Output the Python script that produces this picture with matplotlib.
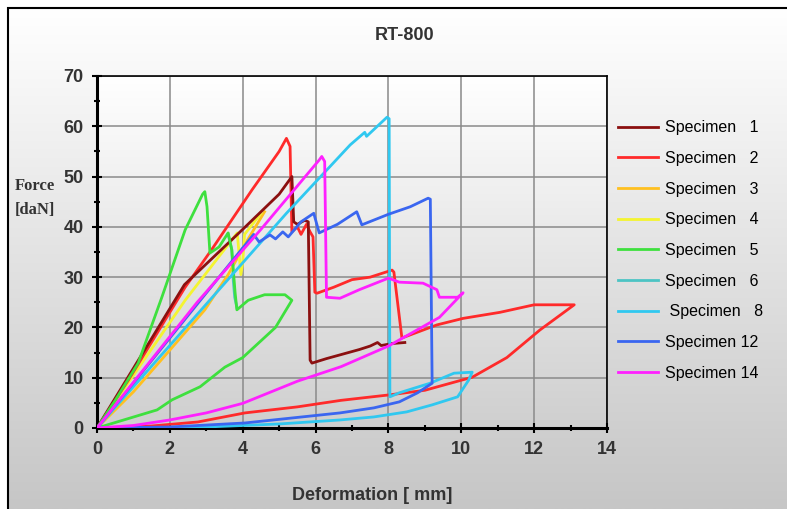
import numpy as np
import matplotlib
matplotlib.use("Agg")
import matplotlib.pyplot as plt
from matplotlib.patches import Rectangle

plt.rcParams['font.family'] = ['Liberation Sans', 'DejaVu Sans']

# ---- data (deformation mm, force daN) ----
labels = ["Specimen   1", "Specimen   2", "Specimen   3", "Specimen   4",
          "Specimen   5", "Specimen   6", " Specimen   8", "Specimen 12",
          "Specimen 14"]
colors = ["#8b1010", "#ff2a2a", "#ffc020", "#f4f430", "#3ee03e",
          "#4cc4c4", "#30c8f0", "#3a66f0", "#ff20ff"]

s1_x = [0, 2.4, 4.0, 5.0, 5.35, 5.4, 5.5, 5.7, 5.8, 5.85, 5.9, 6.3, 6.8, 7.2, 7.5, 7.7, 7.8, 8.1, 8.45]
s1_y = [0, 28.5, 39.5, 46.5, 50, 41, 40.5, 41.3, 41, 13.5, 12.9, 13.8, 14.8, 15.6, 16.3, 17, 16.4, 16.8, 17]

s2_x = [0, 0.86, 2.42, 3.15, 4.25, 5.0, 5.2, 5.3, 5.35, 5.5, 5.6, 5.75, 5.85, 5.93, 5.98, 6.04,
        6.5, 7.0, 7.5, 8.1, 8.15, 8.37, 9.33, 10.05, 11.06, 12.0, 13.1,
        12.16, 11.25, 10.3, 9.0, 8.04, 6.7, 5.5, 4.06, 2.77, 1.5, 0]
s2_y = [0, 9.5, 28, 35.5, 47.3, 55, 57.6, 56, 39, 40, 38.5, 40.5, 39, 38, 27, 26.8,
        28, 29.5, 30, 31.4, 31, 17.9, 20.5, 21.8, 23, 24.5, 24.5,
        19.5, 14, 10.1, 7.5, 6.6, 5.5, 4.2, 3, 1.2, 0.4, 0]

s3_x = [0, 1.0, 2.0, 2.96, 3.6, 4.1, 4.6]
s3_y = [0, 7.2, 15.5, 23.5, 30.5, 37, 43]

s4_x = [0, 2.42, 3.85, 3.95, 4.0, 4.05, 4.5]
s4_y = [0, 25.4, 38.8, 30.5, 33, 38.5, 42.7]

s5_x = [0, 0.5, 1.13, 1.78, 2.42, 2.9, 2.96, 3.02, 3.1, 3.35, 3.6, 3.7, 3.79, 3.84, 4.15,
        4.6, 5.16, 5.35, 4.9, 4.0, 3.51, 2.83, 2.06, 1.65, 0]
s5_y = [0, 5.5, 12.9, 26, 39.4, 46.5, 47, 44, 34.8, 36, 38.8, 35.4, 27, 23.5, 25.4,
        26.5, 26.5, 25.4, 20, 14, 12.1, 8.2, 5.6, 3.6, 0]

s6_x = [3.6, 3.7, 3.74, 3.78, 3.84]
s6_y = [38.5, 35.5, 29.4, 26, 24]

s8_x = [0, 5.2, 6.95, 7.35, 7.4, 7.96, 8.02, 8.04, 8.3, 9.14, 9.8, 10.3,
        10.2, 9.9, 9.2, 8.5, 7.6, 6.67, 5.0, 3.0, 0]
s8_y = [0, 42.7, 56.3, 58.8, 58, 61.8, 61.5, 6.2, 7.0, 8.9, 10.9, 11.1,
        9.5, 6.2, 4.6, 3.2, 2.2, 1.6, 0.8, 0.2, 0]

s12_x = [0, 4.3, 4.45, 4.75, 4.9, 5.1, 5.25, 5.6, 5.95, 6.1, 6.6, 7.13, 7.27,
         8.0, 8.6, 9.09, 9.15, 9.2, 8.8, 8.3, 7.6, 6.67, 4.06, 2.0, 0]
s12_y = [0, 38.5, 37, 38.4, 37.6, 39, 38, 41, 42.7, 38.8, 40.5, 43, 40.4,
         42.5, 44, 45.7, 45.5, 8.9, 7, 5.2, 4, 3, 1, 0.2, 0]

s14_x = [0, 2.75, 4.5, 6.1, 6.17, 6.25, 6.3, 6.67, 7.2, 8.0, 8.3, 8.95, 9.33,
         9.4, 9.9, 10.05, 9.4, 8.0, 6.7, 5.5, 4.0, 3.0, 2.0, 1.0, 0]
s14_y = [0, 25, 39.5, 53.3, 54, 53, 26, 25.8, 27.5, 29.8, 29, 28.8, 27.5,
         26, 26, 26.9, 22, 16.3, 12.2, 9.3, 4.9, 3.0, 1.6, 0.5, 0]

series_x = [s1_x, s2_x, s3_x, s4_x, s5_x, s6_x, s8_x, s12_x, s14_x]
series_y = [s1_y, s2_y, s3_y, s4_y, s5_y, s6_y, s8_y, s12_y, s14_y]
draw_order = [5, 2, 3, 1, 0, 4, 6, 7, 8]

W, H = 787, 509
fig = plt.figure(figsize=(W / 100, H / 100), dpi=100, facecolor="white")

# grey gradient panel with a black frame, like the pasted Excel chart
grad = np.linspace(1.0, 0.0, 256).reshape(-1, 1)
bg = fig.add_axes([8 / W, 0, 1 - 8 / W, 1 - 8 / H], zorder=-10)
bg.imshow(grad, cmap=matplotlib.colors.LinearSegmentedColormap.from_list(
    "g", ["#c6c6c6", "#ffffff"]), aspect="auto", extent=[0, 1, 0, 1])
bg.axis("off")
fig.add_artist(Rectangle((8 / W, -0.1), 1.2, 1.1 - 8 / H, transform=fig.transFigure,
                         fill=False, edgecolor="black", linewidth=1.5))

ax = fig.add_axes([97 / W, 1 - 428 / H, (607 - 97) / W, (428 - 76) / H])
ax.set_xlim(0, 14)
ax.set_ylim(0, 70)
ax.imshow(grad, cmap=matplotlib.colors.LinearSegmentedColormap.from_list(
    "a", ["#cfcfcf", "#ffffff"]), aspect="auto", extent=[0, 14, 0, 70], zorder=0)

for i in draw_order:
    ax.plot(series_x[i], series_y[i], color=colors[i], lw=2.0, label=labels[i],
            zorder=3, solid_joinstyle="round")

ax.set_xticks(range(0, 15, 2))
ax.set_xticks(range(0, 15), minor=True)
ax.set_yticks(range(0, 71, 10))
ax.set_yticks(range(0, 71, 5), minor=True)
ax.grid(True, which="major", color="#8a8a8a", lw=1.1, zorder=1)
ax.tick_params(which="both", direction="inout", color="black", width=1.5)
ax.tick_params(which="major", length=7, labelsize=13, pad=6, labelcolor="#333333")
ax.tick_params(which="minor", length=5)
for lbl in ax.get_xticklabels() + ax.get_yticklabels():
    lbl.set_fontweight("bold")
for side in ["left", "bottom"]:
    ax.spines[side].set_linewidth(2.2)
for side in ["top", "right"]:
    ax.spines[side].set_linewidth(1.2)

fig.text(405 / W, 1 - 35 / H, "RT-800", ha="center", va="center",
         fontsize=13, fontweight="bold", color="#333333")
fig.text(372 / W, 1 - 495 / H, "Deformation [ mm]", ha="center", va="center",
         fontsize=13, fontweight="bold", color="#333333")
fig.text(15 / W, 1 - 186 / H, "Force", ha="left", va="center",
         fontsize=12, fontweight="bold", family="Liberation Serif", color="#333333")
fig.text(15 / W, 1 - 210 / H, "[daN]", ha="left", va="center",
         fontsize=12, fontweight="bold", family="Liberation Serif", color="#333333")

handles, labs = ax.get_legend_handles_labels()
order = [draw_order.index(k) for k in range(len(labels))]
fig.legend([handles[k] for k in order], [labs[k] for k in order],
           loc="upper left", bbox_to_anchor=(612 / W, 1 - 114 / H),
           frameon=False, fontsize=11.5, handlelength=2.5, handletextpad=0.4,
           labelspacing=0.98, borderaxespad=0)

fig.savefig("out.png", dpi=100)
